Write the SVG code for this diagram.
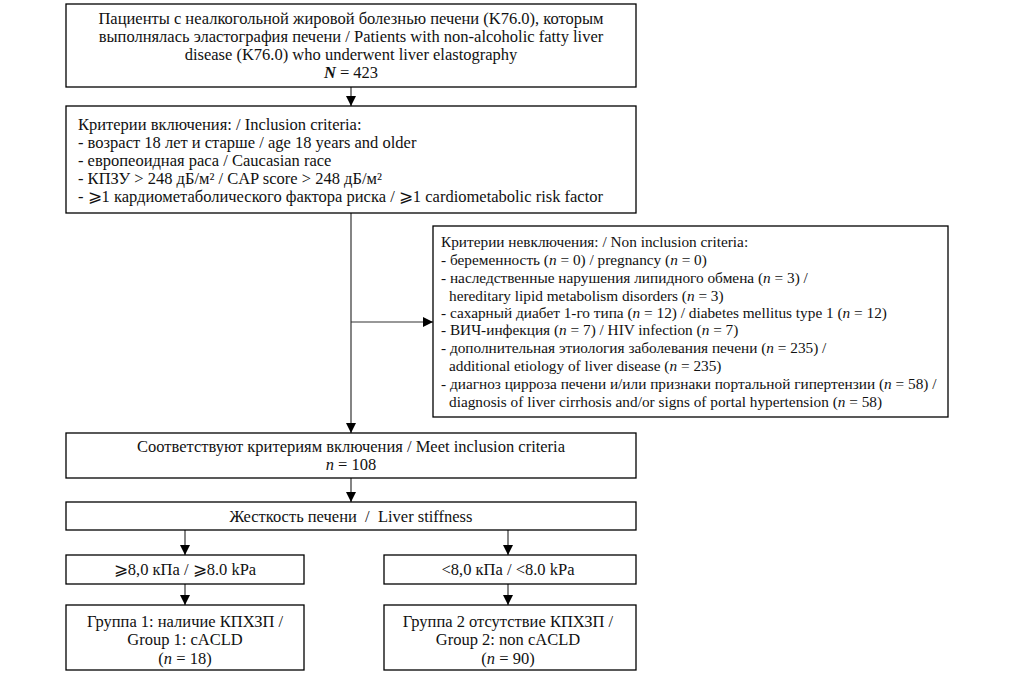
<svg xmlns="http://www.w3.org/2000/svg" width="1022" height="676" viewBox="0 0 1022 676">
<defs>
<marker id="ah" viewBox="0 0 10 10" refX="10" refY="5" markerWidth="10" markerHeight="10" markerUnits="userSpaceOnUse" orient="auto">
<path d="M0,0 L10,5 L0,10 z" fill="#000"/>
</marker>
<style>
.box{fill:#fff;stroke:#000;stroke-width:1.3}
.t{font-family:"Liberation Serif","DejaVu Serif",serif;font-size:16.5px;fill:#111}
.s{font-family:"Liberation Serif","DejaVu Serif",serif;font-size:15.3px;fill:#111}
.c{text-anchor:middle}
.con{stroke:#333;stroke-width:1.2;fill:none}
</style>
</defs>
<rect width="1022" height="676" fill="#fff"/>
<g id="connectors">
<line class="con" x1="351" y1="87" x2="351" y2="106" marker-end="url(#ah)"/>
<line class="con" x1="351" y1="213" x2="351" y2="433" marker-end="url(#ah)"/>
<line class="con" x1="351" y1="322" x2="433" y2="322" marker-end="url(#ah)"/>
<line class="con" x1="351" y1="478" x2="351" y2="502" marker-end="url(#ah)"/>
<line class="con" x1="185" y1="530" x2="185" y2="555" marker-end="url(#ah)"/>
<line class="con" x1="508" y1="530" x2="508" y2="555" marker-end="url(#ah)"/>
<line class="con" x1="185" y1="584" x2="185" y2="605" marker-end="url(#ah)"/>
<line class="con" x1="508" y1="584" x2="508" y2="605" marker-end="url(#ah)"/>
</g>
<g id="n1">
<rect class="box" x="66" y="4" width="570" height="83"/>
<text class="t c" x="351" y="24">Пациенты с неалкогольной жировой болезнью печени (K76.0), которым</text>
<text class="t c" x="351" y="42">выполнялась эластография печени / Patients with non-alcoholic fatty liver</text>
<text class="t c" x="351" y="60">disease (K76.0) who underwent liver elastography</text>
<text class="t c" x="351" y="78"><tspan font-style="italic" font-weight="bold">N</tspan> = 423</text>
</g>
<g id="n2">
<rect class="box" x="66" y="106" width="570" height="107"/>
<text class="t" x="78" y="130">Критерии включения: / Inclusion criteria:</text>
<text class="t" x="78" y="148">- возраст 18 лет и старше / age 18 years and older</text>
<text class="t" x="78" y="166">- европеоидная раса / Caucasian race</text>
<text class="t" x="78" y="184">- КПЗУ &gt; 248 дБ/м² / CAP score &gt; 248 дБ/м²</text>
<text class="t" x="78" y="202">- ⩾1 кардиометаболического фактора риска / ⩾1 cardiometabolic risk factor</text>
</g>
<g id="n3">
<rect class="box" x="433" y="226" width="515" height="191"/>
<text class="s" x="441" y="247">Критерии невключения: / Non inclusion criteria:</text>
<text class="s" x="441" y="265">- беременность (<tspan font-style="italic">n</tspan> = 0) / pregnancy (<tspan font-style="italic">n</tspan> = 0)</text>
<text class="s" x="441" y="283">- наследственные нарушения липидного обмена (<tspan font-style="italic">n</tspan> = 3) /</text>
<text class="s" x="449" y="301">hereditary lipid metabolism disorders (<tspan font-style="italic">n</tspan> = 3)</text>
<text class="s" x="441" y="318">- сахарный диабет 1-го типа (<tspan font-style="italic">n</tspan> = 12) / diabetes mellitus type 1 (<tspan font-style="italic">n</tspan> = 12)</text>
<text class="s" x="441" y="335">- ВИЧ-инфекция (<tspan font-style="italic">n</tspan> = 7) / HIV infection (<tspan font-style="italic">n</tspan> = 7)</text>
<text class="s" x="441" y="353">- дополнительная этиология заболевания печени (<tspan font-style="italic">n</tspan> = 235) /</text>
<text class="s" x="449" y="371">additional etiology of liver disease (<tspan font-style="italic">n</tspan> = 235)</text>
<text class="s" x="441" y="389">- диагноз цирроза печени и/или признаки портальной гипертензии (<tspan font-style="italic">n</tspan> = 58) /</text>
<text class="s" x="449" y="407">diagnosis of liver cirrhosis and/or signs of portal hypertension (<tspan font-style="italic">n</tspan> = 58)</text>
</g>
<g id="n4">
<rect class="box" x="66" y="433" width="570" height="45"/>
<text class="t c" x="351" y="452">Соответствуют критериям включения / Meet inclusion criteria</text>
<text class="t c" x="351" y="470"><tspan font-style="italic">n</tspan> = 108</text>
</g>
<g id="n5">
<rect class="box" x="66" y="502" width="570" height="28"/>
<text class="t c" x="351" y="522" xml:space="preserve">Жесткость печени  /  Liver stiffness</text>
</g>
<g id="n6">
<rect class="box" x="66" y="555" width="238" height="29"/>
<text class="t c" x="185" y="575">⩾8,0 кПа / ⩾8.0 kPa</text>
</g>
<g id="n7">
<rect class="box" x="384" y="555" width="252" height="29"/>
<text class="t c" x="508" y="575">&lt;8,0 кПа / &lt;8.0 kPa</text>
</g>
<g id="n8">
<rect class="box" x="66" y="605" width="238" height="65"/>
<text class="t c" x="185" y="627">Группа 1: наличие КПХЗП /</text>
<text class="t c" x="185" y="645">Group 1: cACLD</text>
<text class="t c" x="185" y="664">(<tspan font-style="italic">n</tspan> = 18)</text>
</g>
<g id="n9">
<rect class="box" x="384" y="605" width="252" height="65"/>
<text class="t c" x="508" y="627">Группа 2 отсутствие КПХЗП /</text>
<text class="t c" x="508" y="645">Group 2: non cACLD</text>
<text class="t c" x="508" y="664">(<tspan font-style="italic">n</tspan> = 90)</text>
</g>
</svg>
